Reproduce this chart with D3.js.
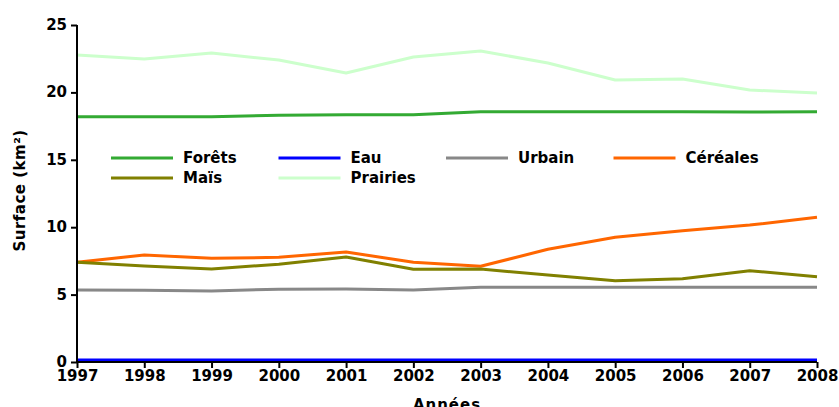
<!DOCTYPE html>
<html>
<head>
<meta charset="utf-8">
<script src="https://cdn.jsdelivr.net/npm/d3@7"></script>
<style>
  body { margin: 0; background: #fff; }
  text { font-family: "DejaVu Sans", sans-serif; font-weight: bold; }
</style>
</head>
<body>
<script>
// years on the x axis
var years = [1997, 1998, 1999, 2000, 2001, 2002, 2003, 2004, 2005, 2006, 2007, 2008];

// surfaces in km2
var forets   = [18.2, 18.2, 18.2, 18.3, 18.35, 18.35, 18.57, 18.57, 18.57, 18.57, 18.55, 18.57];
var eau      = [0.15, 0.15, 0.15, 0.15, 0.15, 0.15, 0.15, 0.15, 0.15, 0.15, 0.15, 0.15];
var urbain   = [5.34, 5.33, 5.27, 5.4, 5.41, 5.34, 5.54, 5.54, 5.54, 5.54, 5.54, 5.54];
var cereales = [7.4, 7.94, 7.69, 7.77, 8.16, 7.4, 7.1, 8.36, 9.25, 9.74, 10.16, 10.73];
var mais     = [7.4, 7.12, 6.9, 7.25, 7.79, 6.88, 6.9, 6.45, 6.03, 6.18, 6.77, 6.33];
var prairies = [22.77, 22.48, 22.92, 22.4, 21.44, 22.63, 23.07, 22.18, 20.92, 21.0, 20.18, 19.95];

var names  = ["Forêts", "Eau", "Urbain", "Céréales", "Maïs", "Prairies"];
var colors = ["#33aa33", "#0000ff", "#888888", "#ff6600", "#808000", "#ccffcc"];
var yTicks = [0, 5, 10, 15, 20, 25];

var series = [forets, eau, urbain, cereales, mais, prairies];

var width = 839, height = 407;
var margin = {left: 77, right: 22, top: 25, bottom: 45};

var svg = d3.select("body").append("svg")
    .attr("width", width)
    .attr("height", height);

var x = d3.scaleLinear()
    .domain([1997, 2008])
    .range([margin.left, width - margin.right]);

var y = d3.scaleLinear()
    .domain([0, 25])
    .range([height - margin.bottom, margin.top]);

var line = d3.line()
    .x(function(d, i) { return x(years[i]); })
    .y(function(d) { return y(d); });

// lines, eau last so it sits on top of the axis
var order = [5, 0, 2, 3, 4, 1];
svg.append("g").selectAll("path")
    .data(order)
  .enter().append("path")
    .attr("d", function(k) { return line(series[k]); })
    .attr("fill", "none")
    .attr("stroke", function(k) { return colors[k]; })
    .attr("stroke-width", 3)
    .attr("stroke-linejoin", "round");

// axes
var xAxis = svg.append("g")
    .attr("transform", "translate(0," + y(0) + ")")
    .call(d3.axisBottom(x).tickValues(years).tickFormat(d3.format("d")).tickSize(6).tickPadding(2));

var yAxis = svg.append("g")
    .attr("transform", "translate(" + margin.left + ",0)")
    .call(d3.axisLeft(y).tickValues(yTicks).tickSize(6).tickPadding(4));

[xAxis, yAxis].forEach(function(a) {
  a.select(".domain").attr("stroke", "#000").attr("stroke-width", 2);
  a.selectAll(".tick line").attr("stroke", "#000").attr("stroke-width", 2);
  a.selectAll(".tick text")
    .attr("fill", "#000")
    .style("font-size", "15px")
    .style("font-family", "DejaVu Sans")
    .style("font-weight", "bold");
});
xAxis.select(".domain").attr("d", "M" + x(1997) + ",0H" + x(2008));
yAxis.select(".domain").attr("d", "M0," + y(25) + "V" + y(0));
yAxis.selectAll(".tick text").attr("dy", "0.3em");

// axis titles
svg.append("text")
    .attr("transform", "translate(25," + (y(12.5) - 3) + ") rotate(-90)")
    .attr("text-anchor", "middle")
    .style("font-size", "15px")
    .style("letter-spacing", "0.5px")
    .text("Surface (km²)");

svg.append("text")
    .attr("x", 447)
    .attr("y", 410)
    .attr("text-anchor", "middle")
    .style("font-size", "15px")
    .style("letter-spacing", "1px")
    .text("Années");

// legend
var legend = svg.append("g").selectAll("g")
    .data(names)
  .enter().append("g")
    .attr("transform", function(d, i) {
      return "translate(" + (111 + (i % 4) * 167.5) + "," + (158 + Math.floor(i / 4) * 20) + ")";
    });

legend.append("line")
    .attr("x1", 0).attr("x2", 62)
    .attr("stroke", function(d, i) { return colors[i]; })
    .attr("stroke-width", 3);

legend.append("text")
    .attr("x", 72)
    .attr("dy", "0.35em")
    .style("font-size", "15px")
    .text(function(d) { return d; });
</script>
</body>
</html>
